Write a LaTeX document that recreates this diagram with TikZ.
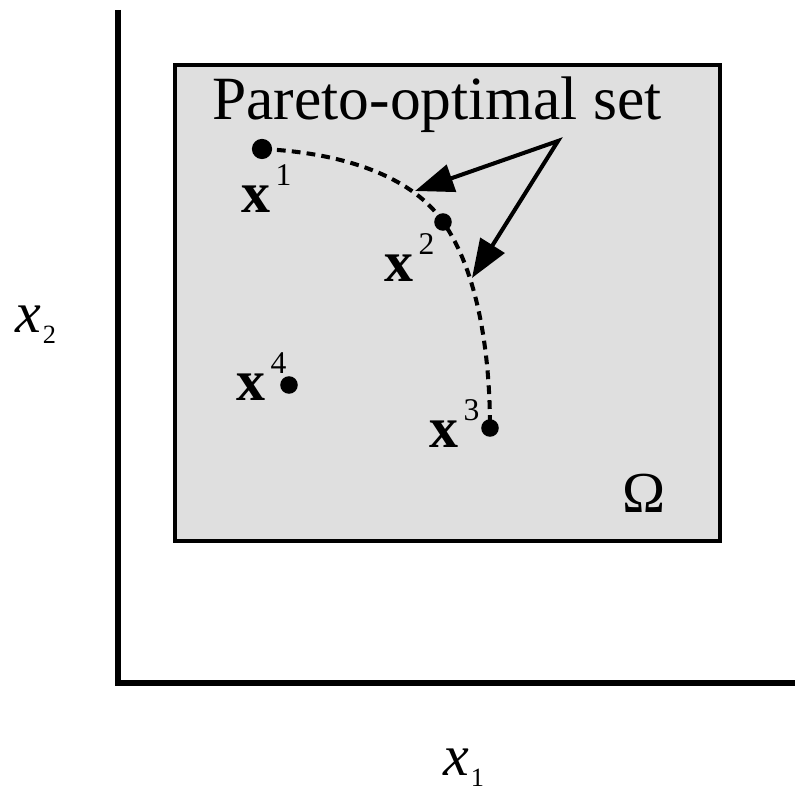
\documentclass[tikz,border=0pt]{standalone}
\usepackage{fontspec}
\setmainfont{Liberation Serif}
\usetikzlibrary{arrows.meta}
\definecolor{RegionGray}{RGB}{223,223,223}
\newcommand{\ptlabel}[1]{\textbf{x}\kern3pt\raisebox{0.47em}{\fontsize{18}{18}\selectfont #1}}
\newcommand{\axlabel}[1]{\textit{x}\kern1pt\raisebox{-6pt}{\fontsize{15}{15}\selectfont #1}}

\begin{document}
\begin{tikzpicture}[x=0.02cm, y=-0.02cm,
    axis/.style={line width=3pt},
    region/.style={draw, line width=2.4pt, fill=RegionGray},
    pt/.style={circle, fill, inner sep=0pt, minimum size=10pt},
    lbl/.style={inner sep=0pt, anchor=base west, font=\fontsize{33}{36}\selectfont},
    front/.style={line width=2.3pt, dash pattern=on 5pt off 3.5pt},
    pointer/.style={line width=2.3pt, line join=miter, {Triangle[length=22pt, width=16pt]}-{Triangle[length=22pt, width=16pt]}}
]
    \useasboundingbox (0,0) rectangle (795,793);

    % axes and the feasible region
    \coordinate (ytop) at (118,10);
    \coordinate (xend) at (795,683);
    \draw[axis] (ytop) |- (xend);
    \draw[region] (175,65) rectangle (720,541);

    \node[lbl, anchor=base] (omega) at (644,513) {Ω};
    \node[lbl] (x2lab) at (15,333) {\axlabel{2}};
    \node[lbl] (x1lab) at (443,776) {\axlabel{1}};

    % points
    \node[pt, minimum size=11.5pt] (p1) at (262,149) {};
    \node[pt] (p2) at (443,222) {};
    \node[pt] (p3) at (490,428) {};
    \node[pt] (p4) at (289,385) {};

    \node[lbl] (l1) at (241,213) {\ptlabel{1}};
    \node[lbl] (l2) at (384,282) {\ptlabel{2}};
    \node[lbl] (l3) at (429,448) {\ptlabel{3}};
    \node[lbl] (l4) at (236,401) {\ptlabel{4}};

    % pareto front
    \draw[front] (p1.center) .. controls (350,153) and (415,180) .. (p2.center)
        .. controls (477,270) and (490,350) .. (p3.center);

    \node[lbl, anchor=base, font=\fontsize{35}{38}\selectfont] (title) at (437,120) {Pareto-optimal set};
    \coordinate (src) at (558,141);
    \coordinate (t1) at (415,191);
    \coordinate (t2) at (472,278);
    \draw[pointer] (t1) -- (src) -- (t2);
\end{tikzpicture}
\end{document}
